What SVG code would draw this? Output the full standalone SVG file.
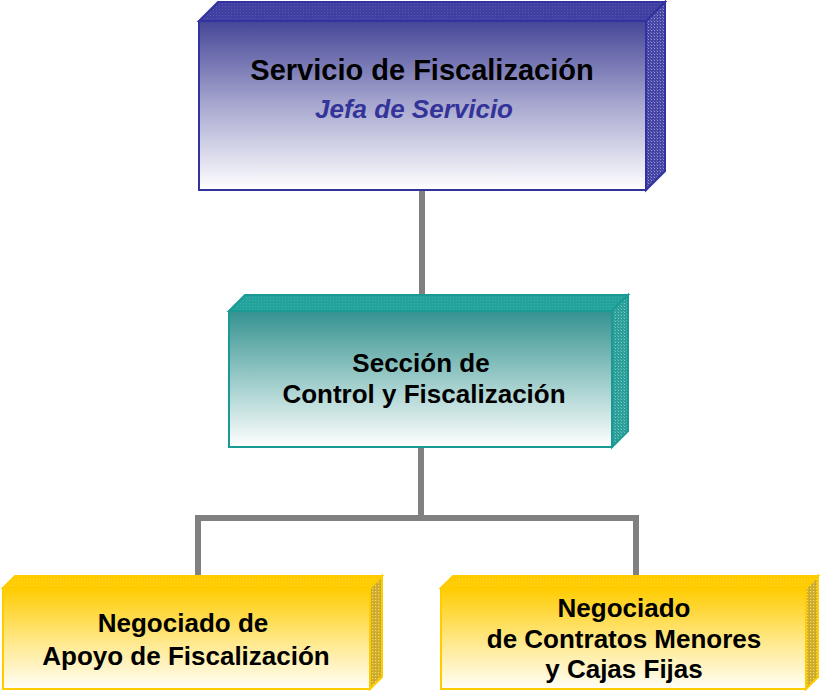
<svg xmlns="http://www.w3.org/2000/svg" width="820" height="691" viewBox="0 0 820 691">
<defs>
<linearGradient id="gBlue" x1="0" y1="0" x2="0" y2="1">
<stop offset="0" stop-color="#464698"/><stop offset="0.5" stop-color="#a8a8d0"/><stop offset="1" stop-color="#ffffff"/>
</linearGradient>
<linearGradient id="gTeal" x1="0" y1="0" x2="0" y2="1">
<stop offset="0" stop-color="#349290"/><stop offset="0.55" stop-color="#a4d0ce"/><stop offset="1" stop-color="#ffffff"/>
</linearGradient>
<linearGradient id="gYel" x1="0" y1="0" x2="0" y2="1">
<stop offset="0" stop-color="#ffcc00"/><stop offset="0.55" stop-color="#ffe98f"/><stop offset="1" stop-color="#fffef8"/>
</linearGradient>
<pattern id="pBlueTop" width="3" height="3" patternUnits="userSpaceOnUse">
<rect width="3" height="3" fill="#4040a2"/><rect width="1" height="1" fill="#5858b0"/>
</pattern>
<pattern id="pBlueSide" width="3" height="3" patternUnits="userSpaceOnUse">
<rect width="3" height="3" fill="#4444a6"/><rect width="1" height="1" fill="#9898cc"/><rect x="2" y="2" width="1" height="1" fill="#6a6ab8"/>
</pattern>
<pattern id="pTealTop" width="3" height="3" patternUnits="userSpaceOnUse">
<rect width="3" height="3" fill="#23a39c"/><rect width="1" height="1" fill="#3cadaa"/>
</pattern>
<pattern id="pTealSide" width="3" height="3" patternUnits="userSpaceOnUse">
<rect width="3" height="3" fill="#2a9e98"/><rect width="1" height="1" fill="#7cc6c2"/><rect x="2" y="2" width="1" height="1" fill="#52b2ac"/>
</pattern>
<pattern id="pYelTop" width="3" height="3" patternUnits="userSpaceOnUse">
<rect width="3" height="3" fill="#ffcc00"/><rect width="1" height="1" fill="#ffd840"/>
</pattern>
<pattern id="pYelSide" width="3" height="3" patternUnits="userSpaceOnUse">
<rect width="3" height="3" fill="#d4b02a"/><rect width="1" height="1" fill="#ecd880"/><rect x="2" y="2" width="1" height="1" fill="#b89c3c"/>
</pattern>
</defs>
<style>
.t{font-family:"Liberation Sans",Arial,sans-serif;font-weight:bold;fill:#000;text-anchor:middle}
.conn{stroke:#808080;stroke-width:6;fill:none}
.bb{stroke:#3333a0;stroke-width:2}
.tb{stroke:#1a9a94;stroke-width:2}
.yb{stroke:#ffcc00;stroke-width:2}
</style>
<g id="connectors">
<line class="conn" x1="422" y1="189" x2="422" y2="296"/>
<polyline class="conn" points="198,577 198,518 636,518 636,577"/>
<line class="conn" x1="421" y1="446" x2="421" y2="518"/>
</g>
<g id="servicio">
<polygon class="bb" points="199,21 218,2 665,2 646,21" fill="url(#pBlueTop)"/>
<polygon class="bb" points="646,21 665,2 665,171 646,190" fill="url(#pBlueSide)"/>
<rect class="bb" x="199" y="21" width="447" height="169" fill="url(#gBlue)"/>
<text class="t" x="422" y="80" font-size="29">Servicio de Fiscalización</text>
<text class="t" x="414" y="118" font-size="26" font-style="italic" style="fill:#333399">Jefa de Servicio</text>
</g>
<g id="seccion">
<polygon class="tb" points="229,311 245,295 628,295 612,311" fill="url(#pTealTop)"/>
<polygon class="tb" points="612,311 628,295 628,431 612,447" fill="url(#pTealSide)"/>
<rect class="tb" x="229" y="311" width="383" height="136" fill="url(#gTeal)"/>
<text class="t" x="421" y="372" font-size="26">Sección de</text>
<text class="t" x="424" y="403" font-size="26">Control y Fiscalización</text>
</g>
<g id="apoyo">
<polygon class="yb" points="3,588 15,576 382,576 370,588" fill="url(#pYelTop)"/>
<polygon class="yb" points="370,588 382,576 382,677 370,689" fill="url(#pYelSide)"/>
<rect class="yb" x="3" y="588" width="367" height="101" fill="url(#gYel)"/>
<text class="t" x="183" y="632" font-size="26">Negociado de</text>
<text class="t" x="186" y="665" font-size="26">Apoyo de Fiscalización</text>
</g>
<g id="contratos">
<polygon class="yb" points="441,588 453,576 818,576 806,588" fill="url(#pYelTop)"/>
<polygon class="yb" points="806,588 818,576 818,677 806,689" fill="url(#pYelSide)"/>
<rect class="yb" x="441" y="588" width="365" height="101" fill="url(#gYel)"/>
<text class="t" x="624" y="617" font-size="26">Negociado</text>
<text class="t" x="624" y="648" font-size="26">de Contratos Menores</text>
<text class="t" x="624" y="678" font-size="26">y Cajas Fijas</text>
</g>
</svg>
